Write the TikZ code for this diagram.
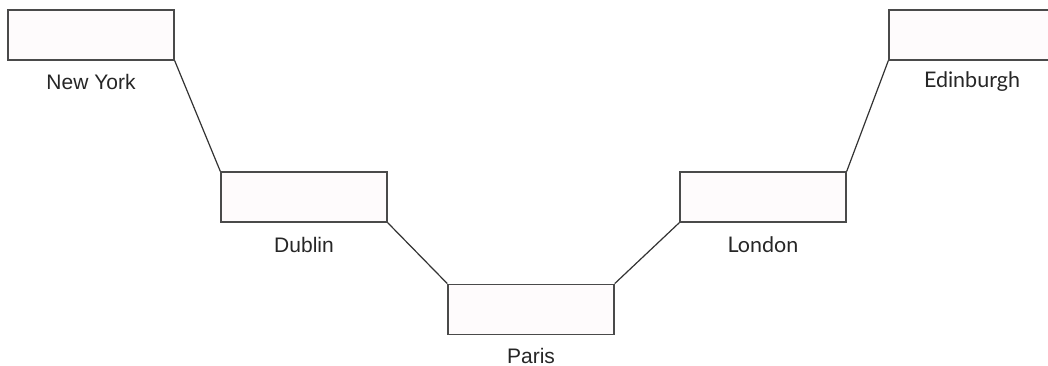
\documentclass[tikz,border=0pt]{standalone}
\usepackage{fontspec}
\setmainfont{Liberation Sans}
\newfontfamily\latofont{Lato}
\definecolor{boxfill}{HTML}{FEFBFC}
\definecolor{boxline}{HTML}{4A4A4A}
\definecolor{conline}{HTML}{333333}
\begin{document}
\begin{tikzpicture}[x=1pt,y=-1pt,
  citybox/.style={draw=boxline, line width=1.4pt, fill=boxfill, minimum width=166pt, minimum height=50pt, inner sep=0pt},
  lab/.style={font=\fontsize{21}{25}\selectfont, text=black!85, inner sep=0pt, anchor=base},
  lablato/.style={lab, font=\latofont\fontsize{21.5}{25}\selectfont},
  conn/.style={draw=conline, line width=1.2pt}]
\clip (0,0) rectangle (1048,366);
\fill[white] (0,0) rectangle (1048,366);
\node[citybox] (ny)  at (91,35)  {};
\node[citybox] (dub) at (304,197) {};
\node[citybox] (par) at (531,309.3) {};
\node[citybox] (lon) at (763,197) {};
\node[citybox] (edi) at (972,35) {};
\node[lab] (nyl) at ([yshift=-29.3pt]ny.south) {New York};
\node[lab] (dubl) at ([yshift=-29.3pt]dub.south) {Dublin};
\node[lab] (parl) at ([yshift=-28.6pt]par.south) {Paris};
\node[lablato] (lonl) at ([yshift=-29.3pt]lon.south) {London};
\node[lablato] (edil) at ([yshift=-27.3pt]edi.south) {Edinburgh};
\draw[conn] (ny.south east) -- (dub.north west);
\draw[conn] (dub.south east) -- (par.north west);
\draw[conn] (par.north east) -- (lon.south west);
\draw[conn] (lon.north east) -- (edi.south west);
\end{tikzpicture}
\end{document}
